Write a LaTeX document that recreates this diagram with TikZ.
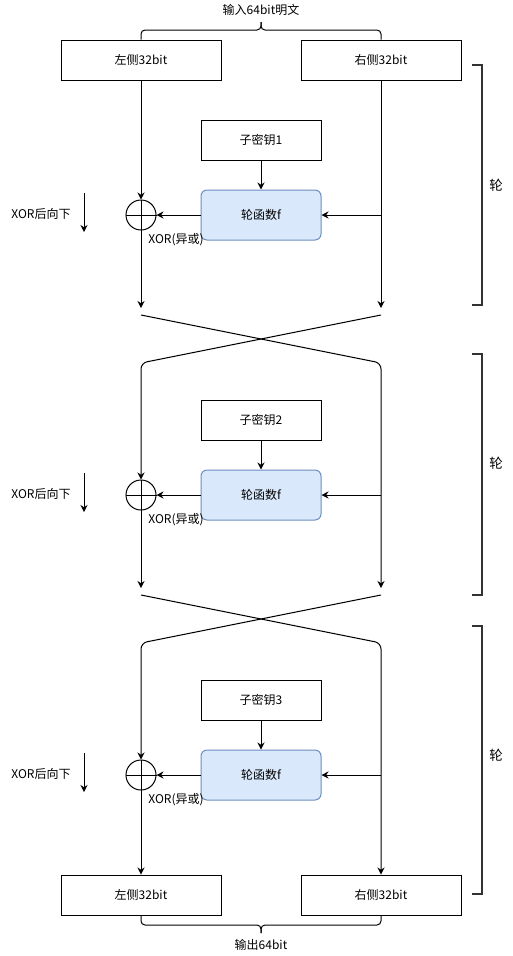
\documentclass[tikz,border=0pt]{standalone}
\usepackage{fontspec}
\setmainfont{Noto Sans CJK SC}
\usetikzlibrary{arrows.meta}
\definecolor{fblue}{HTML}{DAE8FC}
\definecolor{fline}{HTML}{6C8EBF}
\definecolor{brk}{HTML}{333333}

\begin{document}
\begin{tikzpicture}[x=1pt, y=-1pt, line width=1pt,
    font=\fontsize{12}{14}\selectfont,
    >={Stealth[length=7pt,width=7pt]},
    halfbox/.style={draw, minimum width=160pt, minimum height=40pt, inner sep=0pt},
    keybox/.style={draw, minimum width=120pt, minimum height=40pt, inner sep=0pt},
    fbox/.style={draw=fline, fill=fblue, rounded corners=6pt, minimum width=120pt, minimum height=50pt, inner sep=0pt},
    xorgate/.style={draw, circle, minimum size=30pt, inner sep=0pt},
    roundbrk/.style={draw=brk, line width=1.8pt}]

    \useasboundingbox (0,0) rectangle (512,956);

    % Input halves
    \node[halfbox] (inL) at (141,60) {左侧32bit};
    \node[halfbox] (inR) at (381,60) {右侧32bit};

    % Input brace
    \node (intext) at (261,10) {输入64bit明文};
    \draw[rounded corners=4pt] (inL.north) -- (141,30) -- (261,30) -- (261,22);
    \draw[rounded corners=4pt] (inR.north) -- (381,30) -- (261,30) -- (261,22);

    % Rounds
    \foreach \i in {1,2,3} {
        \pgfmathsetmacro{\dy}{280*(\i-1)}
        \node[keybox] (key\i) at (261,140+\dy) {子密钥\i};
        \node[fbox] (f\i) at (261,215+\dy) {轮函数f};
        \node[xorgate] (x\i) at (141,215+\dy) {};
        \draw (x\i.north) -- (x\i.south) (x\i.west) -- (x\i.east);
        \node (xl\i) at (176,240+\dy) {XOR(异或)};
        \node (dn\i) at (41,214+\dy) {XOR后向下};
        \draw[->] (84,193+\dy) -- (84,232+\dy);
        \coordinate (tap\i) at (381,215+\dy);
        \coordinate (lo\i) at (141,308+\dy);
        \coordinate (ro\i) at (381,308+\dy);
        \coordinate (ls\i) at (141,315+\dy);
        \coordinate (rs\i) at (381,315+\dy);
        \draw[->] (key\i) -- (f\i);
        \draw[->] (f\i) -- (x\i);
        \draw[->] (tap\i) -- (f\i.east);
    }

    % Round brackets
    \foreach \i/\top/\bot/\lab in {1/65/305/185, 2/354/595/463, 3/626/894/755} {
        \draw[roundbrk] (472,\top) -- (482,\top) -- (482,\bot) -- (472,\bot);
        \node[font=\fontsize{13.5}{15}\selectfont] (rlab\i) at (496,\lab) {轮};
    }

    % Output halves
    \node[halfbox] (outL) at (141,895) {左侧32bit};
    \node[halfbox] (outR) at (381,895) {右侧32bit};

    % Round 1 verticals
    \draw[->] (inL) -- (x1);
    \draw[->] (x1) -- (lo1);
    \draw[->] (inR) -- (ro1);

    % Swap 1
    \draw[->, rounded corners=6pt] (ls1) -- (381,363) -- (ro2);
    \draw[->, rounded corners=6pt] (rs1) -- (141,363) -- (x2);
    \draw[->] (x2) -- (lo2);

    % Swap 2
    \draw[->, rounded corners=6pt] (ls2) -- (381,643) -- (outR);
    \draw[->, rounded corners=6pt] (rs2) -- (141,643) -- (x3);
    \draw[->] (x3) -- (outL);

    % Output brace
    \draw[rounded corners=4pt] (outL.south) -- (141,925) -- (261,925) -- (261,933);
    \draw[rounded corners=4pt] (outR.south) -- (381,925) -- (261,925) -- (261,933);
    \node (outtext) at (261,945) {输出64bit};
\end{tikzpicture}
\end{document}
